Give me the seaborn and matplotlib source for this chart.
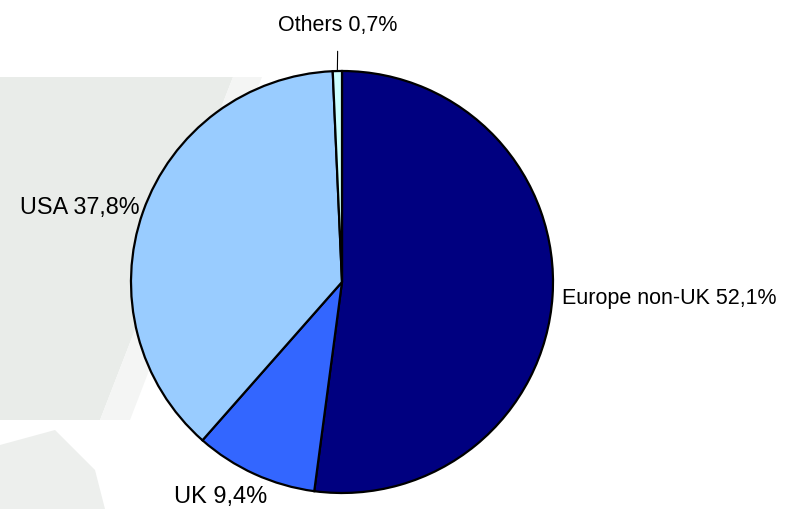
import numpy as np
import matplotlib
matplotlib.use("Agg")
import matplotlib.pyplot as plt
from matplotlib.patches import Polygon
import seaborn as sns

# Estilo
sns.set_theme(style="white")
plt.rcParams['font.family'] = ['Liberation Sans', 'DejaVu Sans']

# Dados
regions = ['Europe non-UK', 'UK', 'USA', 'Others']
shares = [52.1, 9.4, 37.8, 0.7]
share_labels = ['52,1%', '9,4%', '37,8%', '0,7%']
colors = ['#000080', '#3366FF', '#99CCFF', '#CCFFFF']

fig = plt.figure(figsize=(7.87, 5.09), dpi=100)

# marca d'agua cinza no fundo (decorativa)
H = 509
def px(pts):
    return [(x / 787, (H - y) / H) for x, y in pts]

fig.patches.append(Polygon(px([(0, 77), (233, 77), (100, 420), (0, 420)]),
                           closed=True, transform=fig.transFigure,
                           facecolor='#E9ECE9', edgecolor='none', zorder=0))
fig.patches.append(Polygon(px([(233, 77), (262, 77), (130, 420), (100, 420)]),
                           closed=True, transform=fig.transFigure,
                           facecolor='#F4F5F4', edgecolor='none', zorder=0))
fig.patches.append(Polygon(px([(0, 445), (55, 430), (95, 470), (105, 509), (0, 509)]),
                           closed=True, transform=fig.transFigure,
                           facecolor='#EDEFED', edgecolor='none', zorder=0))

# eixo do grafico de pizza (centro ~ (342, 282), raio ~ 211 px)
ax = fig.add_axes([131 / 787, (H - 282 - 211) / H, 422 / 787, 422 / H])
ax.set_zorder(2)
ax.axis('off')
ax.patch.set_alpha(0)

wedges, _ = ax.pie(shares, colors=colors, startangle=90, counterclock=False,
                   wedgeprops=dict(edgecolor='black', linewidth=1.6),
                   radius=1, frame=False)
ax.set_xlim(-1, 1)
ax.set_ylim(-1, 1)
ax.set_aspect('auto')

# posicoes dos rotulos (em unidades do raio)
label_pos = [(1.043, -0.076, 'left'), (-0.573, -1.02, 'center'),
             (-0.957, 0.355, 'right'), (-0.019, 1.218, 'center')]
label_size = [15.5, 17, 16.8, 15.5]

for i, (name, lab) in enumerate(zip(regions, share_labels)):
    x, y, ha = label_pos[i]
    txt = f'{name} {lab}'
    if name == 'Others':
        w = wedges[i]
        ang = np.deg2rad((w.theta1 + w.theta2) / 2)
        ax.annotate(txt, xy=(np.cos(ang), np.sin(ang)), xytext=(x, y),
                    ha=ha, va='center', fontsize=label_size[i], color='black',
                    annotation_clip=False,
                    arrowprops=dict(arrowstyle='-', color='black', lw=0.8,
                                    shrinkA=9, shrinkB=0))
    else:
        ax.text(x, y, txt, ha=ha, va='center', fontsize=label_size[i],
                color='black', clip_on=False)

fig.savefig('out.png', dpi=100)
